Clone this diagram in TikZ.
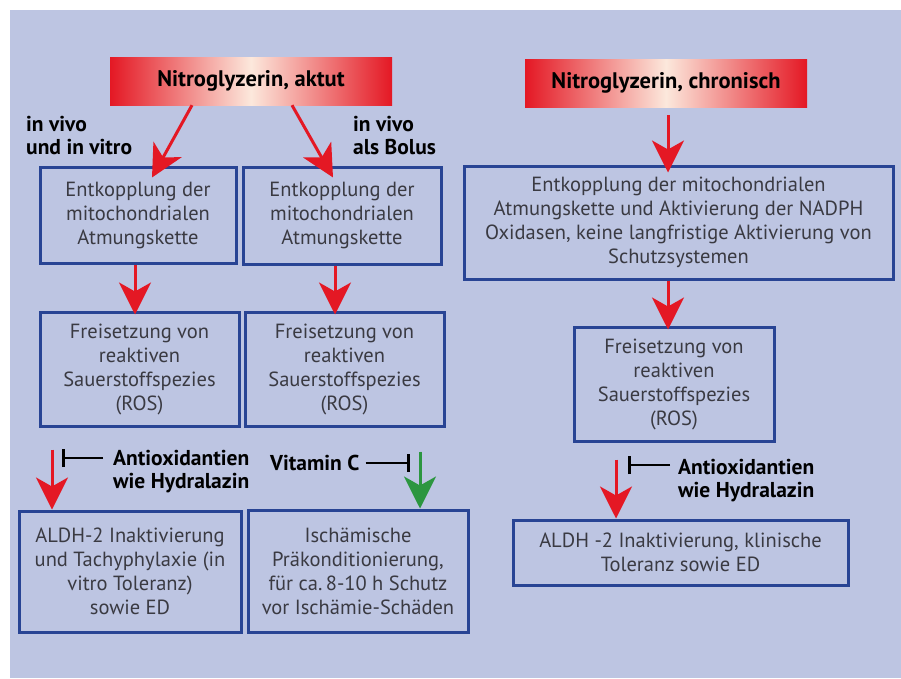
\documentclass[tikz,border=0pt]{standalone}
\usepackage{fontspec}
\setmainfont{PT Sans}
\usetikzlibrary{arrows.meta}

\definecolor{bgblue}{RGB}{189,197,226}
\definecolor{boxblue}{RGB}{40,68,148}
\definecolor{txtgray}{RGB}{58,58,66}
\definecolor{arrred}{RGB}{228,24,36}
\definecolor{arrgreen}{RGB}{44,150,64}
\definecolor{peach}{RGB}{252,232,220}

\begin{document}
\begin{tikzpicture}[x=1pt, y=-1pt,
    box/.style={draw=boxblue, line width=3pt, align=center, text=txtgray,
      inner sep=0pt, font=\fontsize{20.5}{24}\selectfont},
    titlebox/.style={left color=arrred, right color=arrred, middle color=peach,
      minimum width=282pt, minimum height=48pt, inner sep=0pt,
      font=\bfseries\fontsize{22.5}{24}\selectfont},
    lbl/.style={align=left, inner sep=0pt, font=\bfseries\fontsize{21.5}{23}\selectfont},
    redarrow/.style={draw=arrred, line width=3pt,
      -{Stealth[length=32pt, width=32pt, inset=9pt]}},
    greenarrow/.style={redarrow, draw=arrgreen, fill=arrgreen},
    inhibit/.style={draw=black, line width=2pt, -{Bar[width=18pt, line width=3pt]}}
  ]

  % background
  \useasboundingbox (0,0) rectangle (901,678);
  \fill[bgblue] (10,10) rectangle (901,678);

  % start nodes
  \node[titlebox] (aktut) at (251,81) {Nitroglyzerin, aktut};
  \node[titlebox] (chron) at (666,83) {Nitroglyzerin, chronisch};

  % left and middle column
  \node[box, minimum width=196pt, minimum height=96pt] (entkA) at (138,215)
    {Entkopplung der\\mitochondrialen\\Atmungskette};
  \node[box, minimum width=198pt, minimum height=97pt] (entkB) at (342,215.5)
    {Entkopplung der\\mitochondrialen\\Atmungskette};
  \node[box, minimum width=199pt, minimum height=114pt] (rosA) at (139.5,369)
    {Freisetzung von\\reaktiven\\Sauerstoffspezies\\(ROS)};
  \node[box, minimum width=199pt, minimum height=114pt] (rosB) at (344.5,369)
    {Freisetzung von\\reaktiven\\Sauerstoffspezies\\(ROS)};
  \node[box, minimum width=222pt, minimum height=121pt] (aldhA) at (130,571.5)
    {ALDH-2 Inaktivierung\\und Tachyphylaxie (in\\vitro Toleranz)\\sowie ED};
  \node[box, minimum width=220pt, minimum height=122pt] (isch) at (358,571)
    {Ischämische\\Präkonditionierung,\\für ca.\,8-10 h Schutz\\vor Ischämie-Schäden};

  % right column
  \node[box, minimum width=429pt, minimum height=113pt] (entkC) at (678.5,222.5)
    {Entkopplung der mitochondrialen\\Atmungskette und Aktivierung der NADPH\\Oxidasen, keine langfristige Aktivierung von\\Schutzsystemen};
  \node[box, minimum width=200pt, minimum height=114pt] (rosC) at (674,384)
    {Freisetzung von\\reaktiven\\Sauerstoffspezies\\(ROS)};
  \node[box, minimum width=335pt, minimum height=65pt] (aldhC) at (680.5,552.5)
    {ALDH -2 Inaktivierung, klinische\\Toleranz sowie ED};

  % labels
  \node[lbl, anchor=north west] (vitro) at (26,116) {in vivo\\und in vitro};
  \node[lbl, anchor=north west] (bolus) at (353,116) {in vivo\\als Bolus};
  \node[lbl, anchor=north west] (antiA) at (113,450) {Antioxidantien\\wie Hydralazin};
  \node[lbl, anchor=west] (vitc) at (270,463) {Vitamin C};
  \node[lbl, anchor=north west] (antiC) at (678,459) {Antioxidantien\\wie Hydralazin};

  % inhibition ends
  \coordinate (barA) at (62,458);
  \coordinate (barB) at (410,463);
  \coordinate (barC) at (628,465);

  % arrows
  \draw[redarrow] ([xshift=-59pt]aktut.south) -- ([xshift=14pt,yshift=-12pt]entkA.north);
  \draw[redarrow] ([xshift=41pt]aktut.south) -- ([xshift=-9pt,yshift=-12pt]entkB.north);
  \draw[redarrow] ([xshift=-3pt]entkA.south) -- ([xshift=-4.5pt,yshift=-4pt]rosA.north);
  \draw[redarrow] ([xshift=-7pt]entkB.south) -- ([xshift=-9.5pt,yshift=-4pt]rosB.north);
  \draw[redarrow] ([xshift=-87.5pt,yshift=-22pt]rosA.south) -- ([xshift=-78pt]aldhA.north);
  \draw[greenarrow] ([xshift=75.5pt,yshift=-24pt]rosB.south) -- ([xshift=62pt]isch.north);

  \draw[redarrow] ([xshift=2pt,yshift=-8pt]chron.south) -- ([xshift=-10.5pt,yshift=-8pt]entkC.north);
  \draw[redarrow] ([xshift=-10.5pt]entkC.south) -- ([xshift=-6pt,yshift=-4pt]rosC.north);
  \draw[redarrow] ([xshift=-58pt,yshift=-17pt]rosC.south) -- ([xshift=-64.5pt]aldhC.north);

  \draw[inhibit] ([xshift=-10pt]antiA.north west |- barA) -- (barA);
  \draw[inhibit] ([xshift=6pt]vitc.east) -- (barB);
  \draw[inhibit] ([xshift=-8pt]antiC.north west |- barC) -- (barC);
\end{tikzpicture}
\end{document}
